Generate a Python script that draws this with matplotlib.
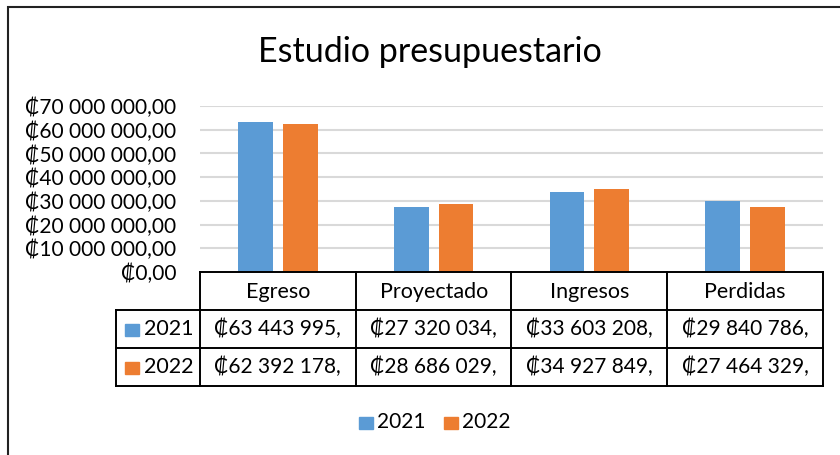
import matplotlib
matplotlib.use('Agg')
import matplotlib.pyplot as plt
from matplotlib.patches import Rectangle
from matplotlib.lines import Line2D
from matplotlib.ticker import FuncFormatter

plt.rcParams['font.family'] = ['Lato', 'DejaVu Sans']

categories = ['Egreso', 'Proyectado', 'Ingresos', 'Perdidas']
years = ['2021', '2022']
v2021 = [63443995, 27320034, 33603208, 29840786]
v2022 = [62392178, 28686029, 34927849, 27464329]
colors = ['#5B9BD5', '#ED7D31']
title = 'Estudio presupuestario'

W, H = 840, 455
fig = plt.figure(figsize=(W / 100, H / 100), dpi=100)

def fx(x):
    return x / W

def fy(y):
    return 1 - y / H

# zona del grafico en pixeles
left, right, top, bottom = 200, 823, 106, 272
ax = fig.add_axes([fx(left), fy(bottom), fx(right - left), (bottom - top) / H])

x = list(range(len(categories)))
bw = 0.223
off = 0.143
ax.bar([i - off for i in x], v2021, bw, color=colors[0], zorder=3)
ax.bar([i + off for i in x], v2022, bw, color=colors[1], zorder=3)

ax.set_xlim(-0.5, len(categories) - 0.5)
ax.set_ylim(0, 70000000)
ax.set_yticks(range(0, 70000001, 10000000))
ax.yaxis.set_major_formatter(FuncFormatter(
    lambda v, p: '₡' + f'{int(v):,}'.replace(',', ' ') + ',00'))
ax.tick_params(axis='y', length=0, pad=17, labelsize=15)
ax.set_xticks([])
for s in ax.spines.values():
    s.set_visible(False)
for t in range(10000000, 70000001, 10000000):
    ax.axhline(t, color='#d9d9d9', lw=1.5, zorder=1)

fig.text(fx(430), fy(62), title, ha='center', va='baseline', fontsize=24.5)

# tabla de datos bajo el eje
cw = (right - left) / len(categories)
rows = [272, 310, 348, 386]
rh_left = 116
lw = 1.4
def hline(y, x0, x1):
    fig.add_artist(Line2D([fx(x0), fx(x1)], [fy(y), fy(y)], color='black', lw=lw))
def vline(x0, y0, y1):
    fig.add_artist(Line2D([fx(x0), fx(x0)], [fy(y0), fy(y1)], color='black', lw=lw))

hline(rows[0], left, right)
for y in rows[1:]:
    hline(y, rh_left, right)
vline(rh_left, rows[1], rows[3])
for i in range(len(categories) + 1):
    vline(left + i * cw, rows[0], rows[3])

for i, c in enumerate(categories):
    cx = left + (i + 0.5) * cw
    fig.text(fx(cx), fy((rows[0] + rows[1]) / 2 + 1), c, ha='center', va='center', fontsize=15.5)

for r, (yr, vals) in enumerate(zip(years, [v2021, v2022])):
    cy = (rows[r + 1] + rows[r + 2]) / 2
    fig.add_artist(Rectangle((fx(125), fy(cy + 7)), fx(14), 12 / H, color=colors[r]))
    fig.text(fx(144), fy(cy), yr, ha='left', va='center', fontsize=15.5)
    for i, v in enumerate(vals):
        cx = left + (i + 0.5) * cw
        txt = '₡' + f'{v:,}'.replace(',', ' ') + ','
        fig.text(fx(cx), fy(cy), txt, ha='center', va='center', fontsize=15)

# leyenda
ly = 422
for k, (yr, xs) in enumerate(zip(years, [359, 444])):
    fig.add_artist(Rectangle((fx(xs), fy(ly + 7)), fx(14), 12 / H, color=colors[k]))
    fig.text(fx(xs + 18), fy(ly), yr, ha='left', va='center', fontsize=15)

# borde del grafico
fig.add_artist(Rectangle((fx(8), -0.1), 1.2, fy(7) + 0.1, fill=False, ec='#222222', lw=1.5))

fig.savefig('out.png', dpi=100)
